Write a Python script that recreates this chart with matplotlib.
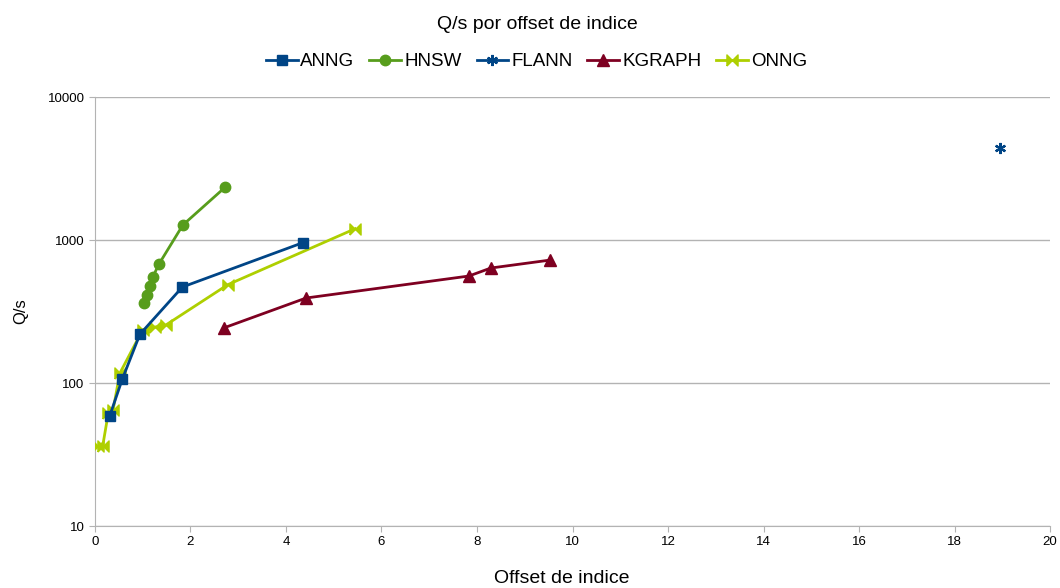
import matplotlib
matplotlib.use('Agg')
import matplotlib.pyplot as plt
from matplotlib.ticker import FixedLocator, NullLocator

plt.rcParams['font.family'] = ['Liberation Sans', 'DejaVu Sans']

# data
anng_x = [0.31, 0.57, 0.94, 1.83, 4.36]
anng_y = [59, 106, 219, 469, 960]

hnsw_x = [1.03, 1.09, 1.15, 1.21, 1.34, 1.84, 2.72]
hnsw_y = [362, 412, 476, 551, 679, 1273, 2330]

flann_x = [18.95]
flann_y = [4400]

kgraph_x = [2.70, 4.42, 7.83, 8.29, 9.53]
kgraph_y = [243, 393, 560, 637, 724]

onng_x = [0.07, 0.16, 0.28, 0.38, 0.52, 1.00, 1.25, 1.48, 2.78, 5.45]
onng_y = [36, 36, 62, 65, 117, 236, 246, 254, 487, 1200]

bowtie = [(-1, -1), (-1, 1), (0, 0), (1, 1), (1, -1), (0, 0), (-1, -1)]

fig = plt.figure(figsize=(10.6, 5.88), dpi=100)
ax = fig.add_axes([0.0896, 0.1054, 0.901, 0.7296])

lw = 2.0
ax.plot(anng_x, anng_y, color='#004586', lw=lw, marker='s', ms=7.5, label='ANNG', zorder=5)
ax.plot(hnsw_x, hnsw_y, color='#579d1c', lw=lw, marker='o', ms=7.5, label='HNSW', zorder=4)
ax.plot(flann_x, flann_y, color='#004586', lw=lw, marker=(6, 2, 0), ms=8, mew=1.6, label='FLANN', zorder=4)
ax.plot(kgraph_x, kgraph_y, color='#7e0021', lw=lw, marker='^', ms=8, label='KGRAPH', zorder=4)
ax.plot(onng_x, onng_y, color='#aecf00', lw=lw, marker=bowtie, ms=8, label='ONNG', zorder=3)

ax.set_yscale('log')
ax.set_xlim(0, 20)
ax.set_ylim(10, 10000)
ax.xaxis.set_major_locator(FixedLocator(range(0, 21, 2)))
ax.yaxis.set_major_locator(FixedLocator([10, 100, 1000, 10000]))
ax.yaxis.set_minor_locator(NullLocator())
ax.set_yticklabels(['10', '100', '1000', '10000'])

ax.grid(axis='y', color='#b3b3b3', lw=1)
ax.set_axisbelow(True)
for s in ['top', 'right']:
    ax.spines[s].set_visible(False)
for s in ['left', 'bottom']:
    ax.spines[s].set_color('#b3b3b3')
ax.tick_params(colors='#b3b3b3', labelcolor='black', labelsize=9.5, length=4)

ax.set_ylabel('Q/s', fontsize=12, labelpad=14)
fig.text(0.530, 0.017, 'Offset de indice', ha='center', va='center', fontsize=14)
fig.text(0.507, 0.958, 'Q/s por offset de indice', ha='center', va='center', fontsize=14)

ax.legend(loc='center', bbox_to_anchor=(0.506, 0.895), bbox_transform=fig.transFigure,
          ncol=5, frameon=False, fontsize=13.5, handlelength=1.7, handletextpad=0.15,
          columnspacing=0.8)

fig.savefig('out.png', dpi=100)
